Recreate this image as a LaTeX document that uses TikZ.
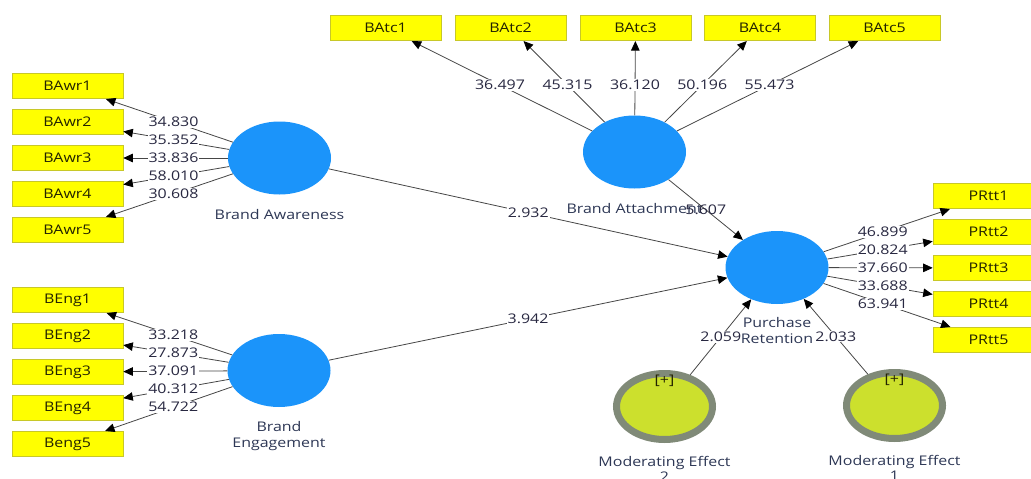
\documentclass[tikz,border=0pt]{standalone}
\usepackage{fontspec}
\setmainfont{Open Sans}[FakeStretch=1.2]
\usetikzlibrary{shapes.geometric,arrows.meta}

\definecolor{lvblue}{RGB}{27,148,250}
\definecolor{indyellow}{RGB}{255,255,0}
\definecolor{indborder}{RGB}{200,200,40}
\definecolor{modfill}{RGB}{204,224,45}
\definecolor{modring}{RGB}{128,138,120}
\definecolor{numtext}{RGB}{40,40,65}
\definecolor{nametext}{RGB}{45,55,85}
\definecolor{boxtext}{RGB}{35,35,0}
\definecolor{linegray}{RGB}{70,70,70}

\begin{document}
\begin{tikzpicture}[x=1pt,y=-1pt,
  font=\fontsize{13.3}{15.5}\selectfont,
  lv/.style={ellipse, fill=lvblue, minimum width=103pt, minimum height=73pt, inner sep=0pt},
  indbox/.style={rectangle, fill=indyellow, draw=indborder, line width=0.6pt,
    minimum width=111pt, minimum height=25.5pt, inner sep=0pt, text=boxtext},
  modlv/.style={ellipse, fill=modfill, draw=modring, line width=7pt,
    minimum width=96pt, minimum height=66pt, inner sep=0pt},
  arr/.style={draw=linegray, line width=0.8pt, -{Triangle[length=9.5pt,width=8.5pt,color=black]}},
  coef/.style={fill=white, inner sep=1pt, text=numtext},
  lvname/.style={text=nametext, align=center, inner sep=0pt},
  label distance=14pt,
  plus/.style={text=boxtext, inner sep=0pt}]

\useasboundingbox (0,0) rectangle (1031,479);
\clip (0,0) rectangle (1031,479);

% latent variables
\node[lv, label={[lvname]below:Brand Awareness}] (ba) at (279.5,158) {};
\node[lv, label={[lvname]below:Brand\\Engagement}] (be) at (279,370.5) {};
\node[lv] (batt) at (634.5,152) {};
\node[lv, label={[lvname,label distance=13pt]below:Purchase\\Retention}] (pr) at (777,267.5) {};
\node[modlv, label={[lvname,label distance=13pt]below:Moderating Effect\\2}] (me2) at (664.5,406.5) {};
\node[modlv, label={[lvname,label distance=13pt]below:Moderating Effect\\1}] (me1) at (894.5,405.5) {};
\node[plus] (me2p) at (664.5,381) {[+]};
\node[plus] (me1p) at (894.5,380) {[+]};

% indicators of Brand Awareness
\foreach \i/\y in {1/86,2/122,3/158,4/194,5/230}
  \node[indbox] (bawr\i) at (67.5,\y) {BAwr\i};
% indicators of Brand Engagement
\foreach \i/\y in {1/300,2/336,3/372,4/408}
  \node[indbox] (beng\i) at (67.5,\y) {BEng\i};
\node[indbox] (beng5) at (67.5,444) {Beng5};
% indicators of Brand Attachment
\foreach \i/\x in {1/385.5,2/510.5,3/635.5,4/760,5/884.5}
  \node[indbox] (batc\i) at (\x,28) {BAtc\i};
% indicators of Purchase Retention
\foreach \i/\y in {1/196,2/232,3/268,4/304,5/340}
  \node[indbox] (prtt\i) at (988.5,\y) {PRtt\i};

% outer loadings
\foreach \i/\v in {1/34.830,2/35.352,3/33.836,4/58.010,5/30.608}{
  \draw[arr] (ba) -- (bawr\i);
  \path (ba.center) -- (bawr\i.center) node[coef, pos=0.5] {\v};
}
\foreach \i/\v in {1/33.218,2/27.873,3/37.091,4/40.312,5/54.722}{
  \draw[arr] (be) -- (beng\i);
  \path (be.center) -- (beng\i.center) node[coef, pos=0.5] {\v};
}
\foreach \i/\v in {1/36.497,2/45.315,3/36.120,4/50.196,5/55.473}{
  \draw[arr] (batt) -- (batc\i);
  \path (batt.center) -- (batc\i.center) node[coef, pos=0.54] {\v};
}
\foreach \i/\v in {1/46.899,2/20.824,3/37.660,4/33.688,5/63.941}{
  \draw[arr] (pr) -- (prtt\i);
  \path (pr.center) -- (prtt\i.center) node[coef, pos=0.5] {\v};
}

% structural paths
\draw[arr] (ba) -- (pr);
\path (ba.center) -- (pr.center) node[coef, pos=0.5] {2.932};
\draw[arr] (be) -- (pr);
\path (be.center) -- (pr.center) node[coef, pos=0.5] {3.942};
\draw[arr] (me2) -- (pr);
\path (me2.center) -- (pr.center) node[coef, pos=0.5] {2.059};
\draw[arr] (me1) -- (pr);
\path (me1.center) -- (pr.center) node[coef, pos=0.5] {2.033};

\node[lvname, anchor=north] (batt-name) at ([yshift=-14pt]batt.south) {Brand Attachment};
\draw[arr] (batt) -- (pr);
\path (batt.center) -- (pr.center) node[coef, pos=0.5, fill=none] {5.607};
\end{tikzpicture}
\end{document}
